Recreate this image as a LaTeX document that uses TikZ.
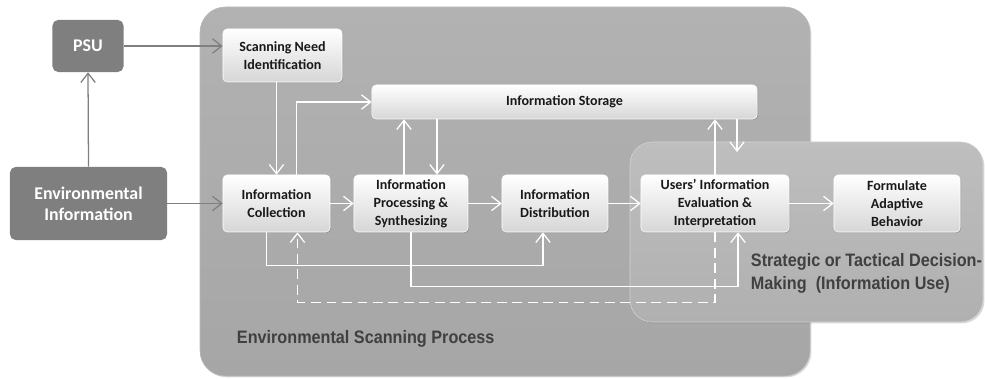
\documentclass[tikz,border=0pt]{standalone}
\usepackage{fontspec}
\setmainfont{Carlito}
\newfontfamily\narrowsans[FakeStretch=0.9]{Liberation Sans}
\usepackage{tikz}
\usetikzlibrary{arrows.meta,calc,shadows}
\definecolor{envfill}{RGB}{166,166,166}
\definecolor{envtop}{RGB}{178,178,178}
\definecolor{decfill}{RGB}{176,176,176}
\definecolor{dectop}{RGB}{190,190,190}
\definecolor{darkbox}{RGB}{127,127,127}
\definecolor{boxlow}{RGB}{214,214,214}
\definecolor{labtext}{RGB}{64,64,64}

\begin{document}
\begin{tikzpicture}[x=0.025cm,y=-0.025cm,
   font=\bfseries\fontsize{10}{12.8}\selectfont,
   stepb/.style={top color=white,bottom color=boxlow,draw=white,line width=0.4pt,
                 rounded corners=3pt,minimum height=1.425cm,align=center,inner sep=1pt,
                 text=black!90,
                 drop shadow={opacity=0.35,shadow xshift=0.8pt,shadow yshift=-0.8pt}},
   srcb/.style={fill=darkbox,rounded corners=4pt,text=white,align=center,
                font=\bfseries\fontsize{12.7}{15}\selectfont},
   reglab/.style={anchor=north west,align=left,text=labtext,
                  font=\narrowsans\bfseries\fontsize{12.8}{17}\selectfont},
   ar/.style={-{Straight Barb[length=2.3mm,width=3.6mm]},line width=0.9pt,darkbox},
   war/.style={-{Straight Barb[length=2.3mm,width=3.6mm]},line width=0.9pt,white}]

\useasboundingbox (0,0) rectangle (985,379);

% scanning process and decision making areas
\shade[top color=envtop,bottom color=envfill,draw=gray!55,rounded corners=18pt,
       drop shadow={opacity=0.3,shadow xshift=1pt,shadow yshift=-1pt}]
   (200,7) rectangle (810,376);
\shade[top color=dectop,bottom color=decfill,draw=gray!35,rounded corners=16pt,
       drop shadow={opacity=0.3,shadow xshift=1pt,shadow yshift=-1pt}]
   (630,142) rectangle (983,322);
\node[reglab] (esp) at (232,325) {Environmental Scanning Process};
\node[reglab] (sdm) at (746,248) {Strategic or Tactical Decision-\\Making\ \ (Information Use)};

% outside sources
\node[srcb,minimum width=1.775cm,minimum height=1.3cm] (psu) at (88,46) {PSU};
\node[srcb,minimum width=3.925cm,minimum height=1.825cm] (env) at (88.5,203.5)
   {Environmental\\Information};

% process steps
\node[stepb,minimum width=2.975cm,minimum height=1.325cm] (scan) at (282.5,55.5)
   {Scanning Need\\Identification};
\node[stepb,minimum width=9.625cm,minimum height=0.85cm] (stor) at (564.5,102)
   {Information Storage};
\node[stepb,minimum width=2.675cm] (coll) at (276.5,203.5) {Information\\Collection};
\node[stepb,minimum width=2.85cm] (proc) at (411,203.5)
   {Information\\Processing \&\\Synthesizing};
\node[stepb,minimum width=2.65cm] (dist) at (555,203.5) {Information\\Distribution};
\node[stepb,minimum width=3.7cm] (users) at (715,203.5)
   {Users’ Information\\Evaluation \&\\Interpretation};
\node[stepb,minimum width=3.15cm] (form) at (897,203.5)
   {Formulate\\Adaptive\\Behavior};

% gray arrows
\draw[ar] (env.north) -- (psu.south);
\draw[ar] (psu.east) -- (psu.east -| scan.west);
\draw[ar] (env.east) -- (coll.west);

% main flow
\draw[war] (coll.north |- scan.south) -- (coll.north);
\draw[war] (coll.east) -- (proc.west);
\draw[war] (proc.east) -- (dist.west);
\draw[war] (dist.east) -- (users.west);
\draw[war] (users.east) -- (form.west);

% storage links
\coordinate (c0) at ($(coll.north)+(20,0)$);
\draw[war] (c0) |- (stor.west);
\coordinate (p0) at ($(proc.north)+(-7,0)$);
\coordinate (p1) at ($(proc.north)+(26,0)$);
\draw[war] (p0) -- (p0 |- stor.south);
\draw[war] (p1 |- stor.south) -- (p1);
\draw[war] (users.north) -- (users.north |- stor.south);
\coordinate (drop) at (737,152);
\draw[war] (drop |- stor.south) -- (drop);

% feedback lines below
\coordinate (c1) at ($(coll.south)+(-10,0)$);
\coordinate (d1) at ($(dist.south)+(-12,0)$);
\draw[war] (c1) -- ++(0,33) -| (d1);
\coordinate (u1) at ($(users.south)+(23,0)$);
\draw[war] (proc.south) -- ++(0,54) -| (u1);
\coordinate (c2) at ($(coll.south)+(21,0)$);
\draw[war,dash pattern=on 7pt off 4pt] (users.south) -- ++(0,70) -| (c2);
\end{tikzpicture}
\end{document}
